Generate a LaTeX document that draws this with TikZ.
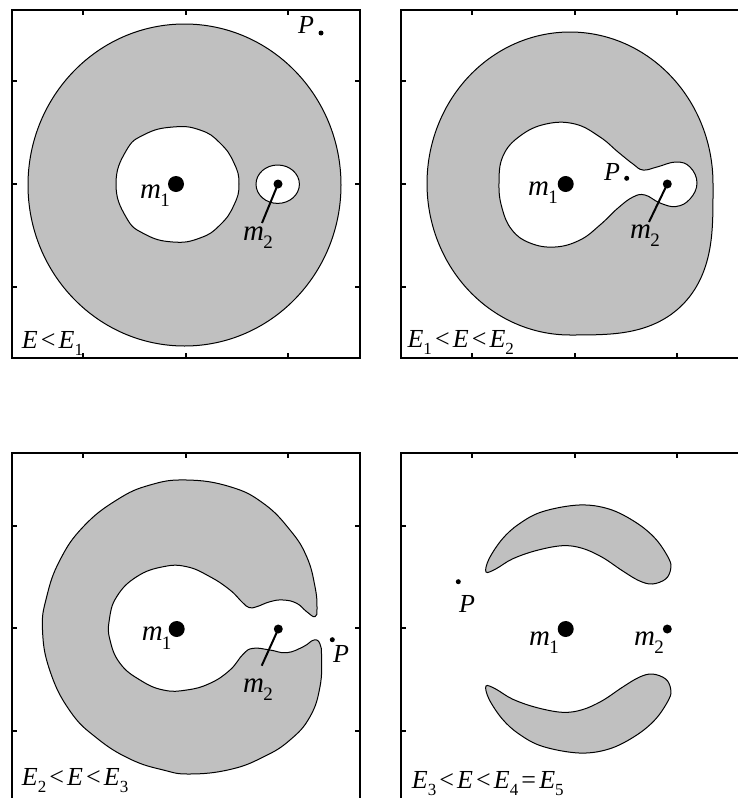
\documentclass[tikz,border=0pt]{standalone}
\usepackage{fontspec}
\setmainfont{Liberation Serif}
\definecolor{hill}{RGB}{192,192,192}
\newcommand\lsub[1]{\kern-0.03em\raisebox{-0.3em}{\fontsize{19}{19}\selectfont #1}}
\newcommand\esub[1]{\raisebox{-0.28em}{\fontsize{17}{17}\selectfont #1}}
\newcommand\rl[1]{\hspace{0.12em}#1\hspace{0.12em}}
\tikzset{
  panelbox/.style={line width=2pt},
  tickmark/.style={line width=1.4pt},
  hillc/.style={fill=hill, draw=black, line width=1pt},
  holec/.style={fill=white, draw=black, line width=1pt},
  mass/.style={circle, fill=black, inner sep=0pt},
  lab/.style={inner sep=0pt, anchor=base west, font=\fontsize{29}{29}\selectfont},
  plab/.style={inner sep=0pt, anchor=base west, font=\fontsize{26}{26}\selectfont},
  elab/.style={inner sep=0pt, anchor=base west, font=\fontsize{26}{26}\selectfont},
  stick/.style={line width=2pt},
}
\begin{document}
\begin{tikzpicture}[x=1pt, y=-1pt]
\fill[white] (0,0) rectangle (738,798);
\useasboundingbox (0,0) rectangle (738,798);
\clip (0,0) rectangle (738,798);

% ---------------- Panel 1 (top left) ----------------
\draw[hillc] (184.5,185) ellipse [x radius=156.5pt, y radius=161pt];
\draw[holec] plot[smooth cycle, tension=0.8] coordinates {
  (116,184) (126,151) (144.5,134.5) (173,127) (200,130) (220,143) (234,163) (239,184)
  (234,205) (220,225) (200,238) (173,242) (144.5,234) (126,217)};
\draw[holec] (277.7,184.2) ellipse [x radius=21.7pt, y radius=19.2pt];
\node[mass, minimum size=16pt] (m1a) at (176,184) {};
\node[mass, minimum size=9pt] (m2a) at (278,184) {};
\node[mass, minimum size=5pt] (pa) at (321,33) {};
\node[lab] (l1a) at (140,198) {\textit{m}\lsub{1}};
\node[lab] (l2a) at (243,240) {\textit{m}\lsub{2}};
\node[plab] (lpa) at (298,33) {\textit{P}};
\coordinate (c2a) at (262,223);
\draw[stick] (m2a.center) -- (c2a);
\node[elab] (ea) at (21.7,348) {\textit{E}\rl{<}\textit{E}\esub{1}};
\draw[panelbox] (12,10) rectangle (360,358);
\foreach \x in {83,186,288} {\draw[tickmark] (\x,10) -- (\x,15); \draw[tickmark] (\x,358) -- (\x,353);}
\foreach \y in {81,184,287} {\draw[tickmark] (12,\y) -- (17,\y); \draw[tickmark] (360,\y) -- (355,\y);}

% ---------------- Panel 2 (top right) ----------------
\draw[hillc] plot[domain=0:357, samples=120, smooth cycle]
  ({570+(143+72*max(0,0-sin(\x))*max(0,cos(\x))*max(0,0-sin(\x))*max(0,cos(\x)))*cos(\x)},
   {183.5-(151.5+72*max(0,0-sin(\x))*max(0,cos(\x))*max(0,0-sin(\x))*max(0,cos(\x)))*sin(\x)});
\draw[holec] plot[smooth cycle, tension=0.7] coordinates {
  (499,183) (503,156) (520,136) (546,124) (575,124) (600,137) (618,152) (633,164)
  (643,170) (657,167) (676,162) (690,167) (697,183) (690,199) (676,206.5) (660,203)
  (645,195) (633,197) (618,208) (600,225) (580,240) (555,247) (530,243) (512,230)
  (502,208)};
\node[mass, minimum size=16pt] (m1b) at (565.7,184) {};
\node[mass, minimum size=9pt] (m2b) at (667.3,184) {};
\node[mass, minimum size=5pt] (pb) at (626.7,178.3) {};
\node[lab] (l1b) at (528,195) {\textit{m}\lsub{1}};
\node[lab] (l2b) at (630,238) {\textit{m}\lsub{2}};
\node[plab] (lpb) at (604,180) {\textit{P}};
\coordinate (c2b) at (649,222);
\draw[stick] (m2b.center) -- (c2b);
\node[elab] (eb) at (407.3,347) {\textit{E}\esub{1}\rl{<}\textit{E}\rl{<}\textit{E}\esub{2}};
\draw[panelbox] (401,10) rectangle (749,358);
\foreach \x in {472,575,677} {\draw[tickmark] (\x,10) -- (\x,15); \draw[tickmark] (\x,358) -- (\x,353);}
\foreach \y in {81,184,287} {\draw[tickmark] (401,\y) -- (406,\y);}

% ---------------- Panel 3 (bottom left) ----------------
\draw[hillc] plot[smooth cycle, tension=0.75] coordinates {
  (186.7,480) (230,486.7) (263.3,503.3) (290,530) (306.7,556.7) (315,586.7) (317,608)
  (315,616.7) (306.7,611.7) (296.7,603.3) (283.3,600) (270,601.7) (256.7,606.7)
  (249,607.5) (242,602) (230,590) (210,576.7) (186.7,566.7) (163.3,566.7) (136.7,576.7)
  (116.7,596.7) (109.3,620) (110,640) (120,663.3) (140,680) (163.3,690) (186.7,690)
  (210,683.3) (230,670) (243.3,654) (253.3,648.3) (270,650) (286.7,652.7) (303.3,646.7)
  (314,640) (320,644) (321.5,657) (320,686.7) (310,716.7) (290,740) (263.3,757)
  (230,769.5) (190,774) (163.3,770) (130,759) (96.7,738) (70,711) (50,671) (42.5,630)
  (46.7,596.7) (60,560) (83.3,526.7) (116.7,500) (150,485)};
\node[mass, minimum size=16pt] (m1c) at (176.7,629) {};
\node[mass, minimum size=9pt] (m2c) at (278.3,629) {};
\node[mass, minimum size=5pt] (pc) at (332.3,639.7) {};
\node[lab] (l1c) at (141.7,640.7) {\textit{m}\lsub{1}};
\node[lab] (l2c) at (243,692) {\textit{m}\lsub{2}};
\node[plab] (lpc) at (333,662) {\textit{P}};
\coordinate (c2c) at (261.7,665.7);
\draw[stick] (m2c.center) -- (c2c);
\node[elab] (ec) at (21.7,785) {\textit{E}\esub{2}\rl{<}\textit{E}\rl{<}\textit{E}\esub{3}};
\draw[panelbox] (12,453) rectangle (360,801);
\foreach \x in {83,186,288} {\draw[tickmark] (\x,453) -- (\x,458);}
\foreach \y in {526,628,731} {\draw[tickmark] (12,\y) -- (17,\y); \draw[tickmark] (360,\y) -- (355,\y);}

% ---------------- Panel 4 (bottom right) ----------------
\draw[hillc] plot[smooth cycle, tension=0.6] coordinates {
  (486,572) (489,559) (502.3,539) (519,524) (542.3,511.7) (579,505) (609,509)
  (635.7,522.3) (655.7,539) (669,559) (670.7,569) (665.7,579) (652.3,584) (639,580.7)
  (622.3,570.7) (602.3,557.3) (582.3,548.3) (562.3,545.7) (535.7,550.7) (512.3,559)
  (495.7,569)};
\draw[hillc] plot[smooth cycle, tension=0.6] coordinates {
  (486,686) (489,699) (502.3,719) (519,734) (542.3,746.3) (579,753) (609,749)
  (635.7,735.7) (655.7,719) (669,699) (670.7,689) (665.7,679) (652.3,674) (639,677.3)
  (622.3,687.3) (602.3,700.7) (582.3,709.7) (562.3,712.3) (535.7,707.3) (512.3,699)
  (495.7,689)};
\node[mass, minimum size=16pt] (m1d) at (565.7,629) {};
\node[mass, minimum size=9pt] (m2d) at (667.3,629) {};
\node[mass, minimum size=5pt] (pd) at (458.3,581.7) {};
\node[lab] (l1d) at (529,645) {\textit{m}\lsub{1}};
\node[lab] (l2d) at (634,645) {\textit{m}\lsub{2}};
\node[plab] (lpd) at (459,612) {\textit{P}};
\node[elab] (ed) at (411.7,788) {\textit{E}\esub{3}\rl{<}\textit{E}\rl{<}\textit{E}\esub{4}\rl{=}\textit{E}\esub{5}};
\draw[panelbox] (401,453) rectangle (749,801);
\foreach \x in {472,575,677} {\draw[tickmark] (\x,453) -- (\x,458);}
\foreach \y in {526,628,731} {\draw[tickmark] (401,\y) -- (406,\y);}
\end{tikzpicture}
\end{document}
